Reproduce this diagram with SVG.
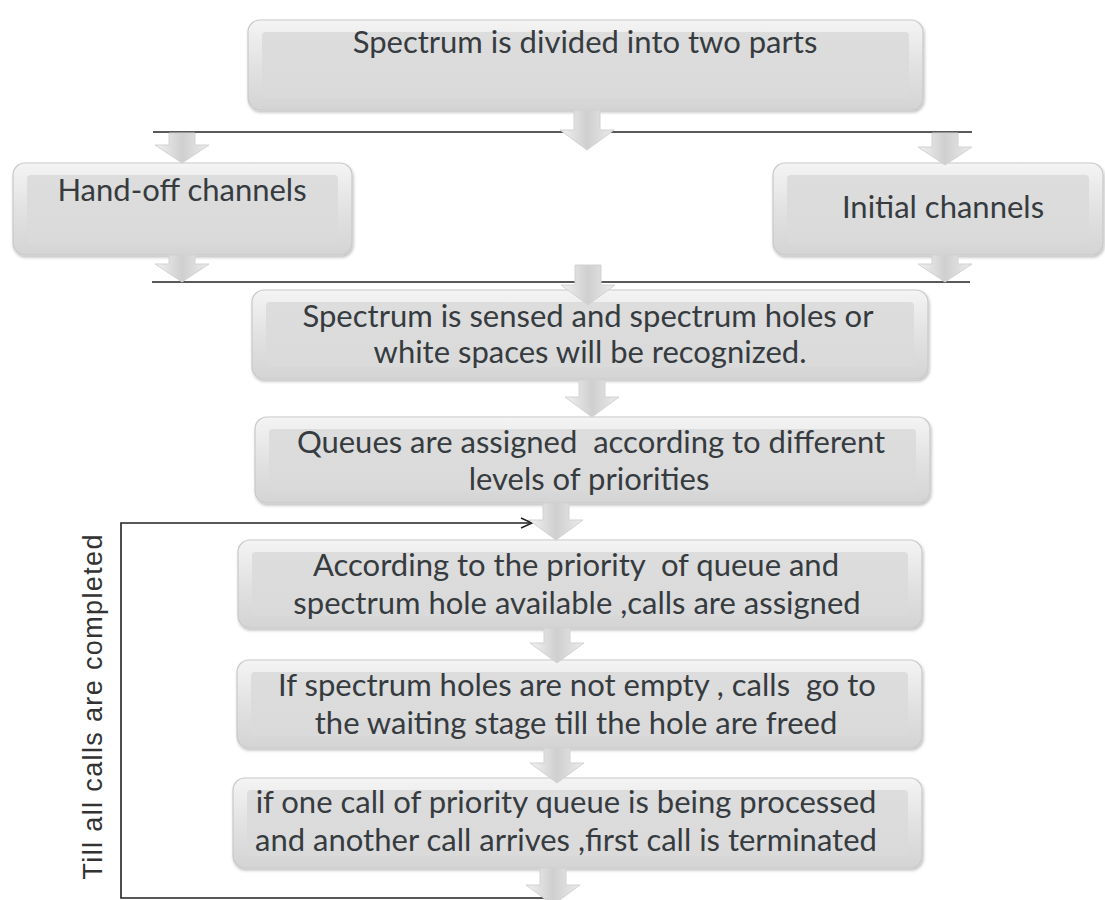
<svg xmlns="http://www.w3.org/2000/svg" width="1105" height="900" viewBox="0 0 1105 900">
<style>
.face{fill:url(#gFace);stroke:#c9c9c9;stroke-width:1.2;filter:url(#sh)}
.inner{fill:url(#gInner)}
.t{font-family:Lato,"Open Sans","Liberation Sans",sans-serif;font-size:31px;fill:#363b40;text-anchor:middle;white-space:pre}
.arr{fill:url(#gArr);stroke:#d2d2d2;stroke-width:1}
.ln{stroke:#222;stroke-width:1.6;fill:none}
.side{font-family:"Liberation Sans",Arial,sans-serif;font-size:27px;fill:#333;text-anchor:middle}
</style>
<defs>
<linearGradient id="gFace" x1="0" y1="0" x2="0" y2="1">
<stop offset="0" stop-color="#f4f4f4"/>
<stop offset="0.5" stop-color="#e2e2e2"/>
<stop offset="1" stop-color="#d4d4d4"/>
</linearGradient>
<linearGradient id="gInner" x1="0" y1="0" x2="0" y2="1">
<stop offset="0" stop-color="#dddddd"/>
<stop offset="1" stop-color="#dadada"/>
</linearGradient>
<linearGradient id="gArr" x1="0" y1="0" x2="1" y2="0">
<stop offset="0" stop-color="#f2f2f2"/>
<stop offset="0.5" stop-color="#cfcfcf"/>
<stop offset="1" stop-color="#ececec"/>
</linearGradient>
<filter id="sh" x="-5%" y="-10%" width="110%" height="130%">
<feDropShadow dx="1" dy="2" stdDeviation="1.5" flood-color="#000" flood-opacity="0.25"/>
</filter>
<marker id="open" markerWidth="14" markerHeight="12" refX="12" refY="6" orient="auto" markerUnits="userSpaceOnUse">
<path d="M1,1 L12,6 L1,11" fill="none" stroke="#222" stroke-width="1.5"/>
</marker>
</defs>
<rect width="1105" height="900" fill="#fff"/>

<g id="connectors">
<line class="ln" x1="153" y1="132" x2="972" y2="132"/>
<line class="ln" x1="152" y1="282" x2="970" y2="282"/>
<polyline class="ln" points="553,898 121,898 121,523 532,523" marker-end="url(#open)"/>
</g>

<g id="n1">
<rect class="face" x="248" y="20" width="675" height="90" rx="12"/>
<rect class="inner" x="262" y="32" width="647" height="66" rx="4"/>
<text class="t" x="585" y="53">Spectrum is divided into two parts</text>
</g>
<g id="n2">
<rect class="face" x="13" y="163" width="339" height="92" rx="12"/>
<rect class="inner" x="27" y="175" width="311" height="68" rx="4"/>
<text class="t" x="182" y="201">Hand-off channels</text>
</g>
<g id="n3">
<rect class="face" x="773" y="163" width="330" height="92" rx="12"/>
<rect class="inner" x="787" y="175" width="302" height="68" rx="4"/>
<text class="t" x="943" y="218">Initial channels</text>
</g>
<g id="n4">
<rect class="face" x="252" y="290" width="676" height="89" rx="12"/>
<rect class="inner" x="266" y="302" width="648" height="65" rx="4"/>
<text class="t" x="588" y="327">Spectrum is sensed and spectrum holes or</text>
<text class="t" x="590" y="363">white spaces will be recognized.</text>
</g>
<g id="n5">
<rect class="face" x="255" y="417" width="675" height="86" rx="12"/>
<rect class="inner" x="269" y="429" width="647" height="62" rx="4"/>
<text class="t" x="591" y="453">Queues are assigned  according to different</text>
<text class="t" x="589" y="490">levels of priorities</text>
</g>
<g id="n6">
<rect class="face" x="238" y="540" width="684" height="88" rx="12"/>
<rect class="inner" x="252" y="552" width="656" height="64" rx="4"/>
<text class="t" x="576" y="576">According to the priority  of queue and</text>
<text class="t" x="577" y="614">spectrum hole available ,calls are assigned</text>
</g>
<g id="n7">
<rect class="face" x="237" y="660" width="685" height="88" rx="12"/>
<rect class="inner" x="251" y="672" width="657" height="64" rx="4"/>
<text class="t" x="577" y="696">If spectrum holes are not empty , calls  go to</text>
<text class="t" x="576" y="734">the waiting stage till the hole are freed</text>
</g>
<g id="n8">
<rect class="face" x="233" y="778" width="689" height="90" rx="12"/>
<rect class="inner" x="247" y="790" width="661" height="66" rx="4"/>
<text class="t" x="566" y="813">if one call of priority queue is being processed</text>
<text class="t" x="566" y="851">and another call arrives ,first call is terminated</text>
</g>

<g id="arrows">
<polygon class="arr" points="574,110 600,110 600,130 614,130 587,150 560,130 574,130"/>
<polygon class="arr" points="169,133 195,133 195,145 209,145 182,163 155,145 169,145"/>
<polygon class="arr" points="932,133 958,133 958,147 972,147 945,165 918,147 932,147"/>
<polygon class="arr" points="169,255 195,255 195,264 209,264 182,282 155,264 169,264"/>
<polygon class="arr" points="932,255 958,255 958,264 972,264 945,282 918,264 932,264"/>
<polygon class="arr" points="575,265 601,265 601,285 615,285 588,305 561,285 575,285"/>
<polygon class="arr" points="579,380 605,380 605,397 619,397 592,417 565,397 579,397"/>
<polygon class="arr" points="543,503 569,503 569,520 583,520 556,540 529,520 543,520"/>
<polygon class="arr" points="544,628 570,628 570,643 584,643 557,663 530,643 544,643"/>
<polygon class="arr" points="544,748 570,748 570,763 584,763 557,783 530,763 544,763"/>
<polygon class="arr" points="540,868 566,868 566,885 580,885 553,905 526,885 540,885"/>
</g>

<g id="side-label">
<text class="side" transform="translate(102,707) rotate(-90)" textLength="345" lengthAdjust="spacing">Till all calls are completed</text>
</g>
</svg>
